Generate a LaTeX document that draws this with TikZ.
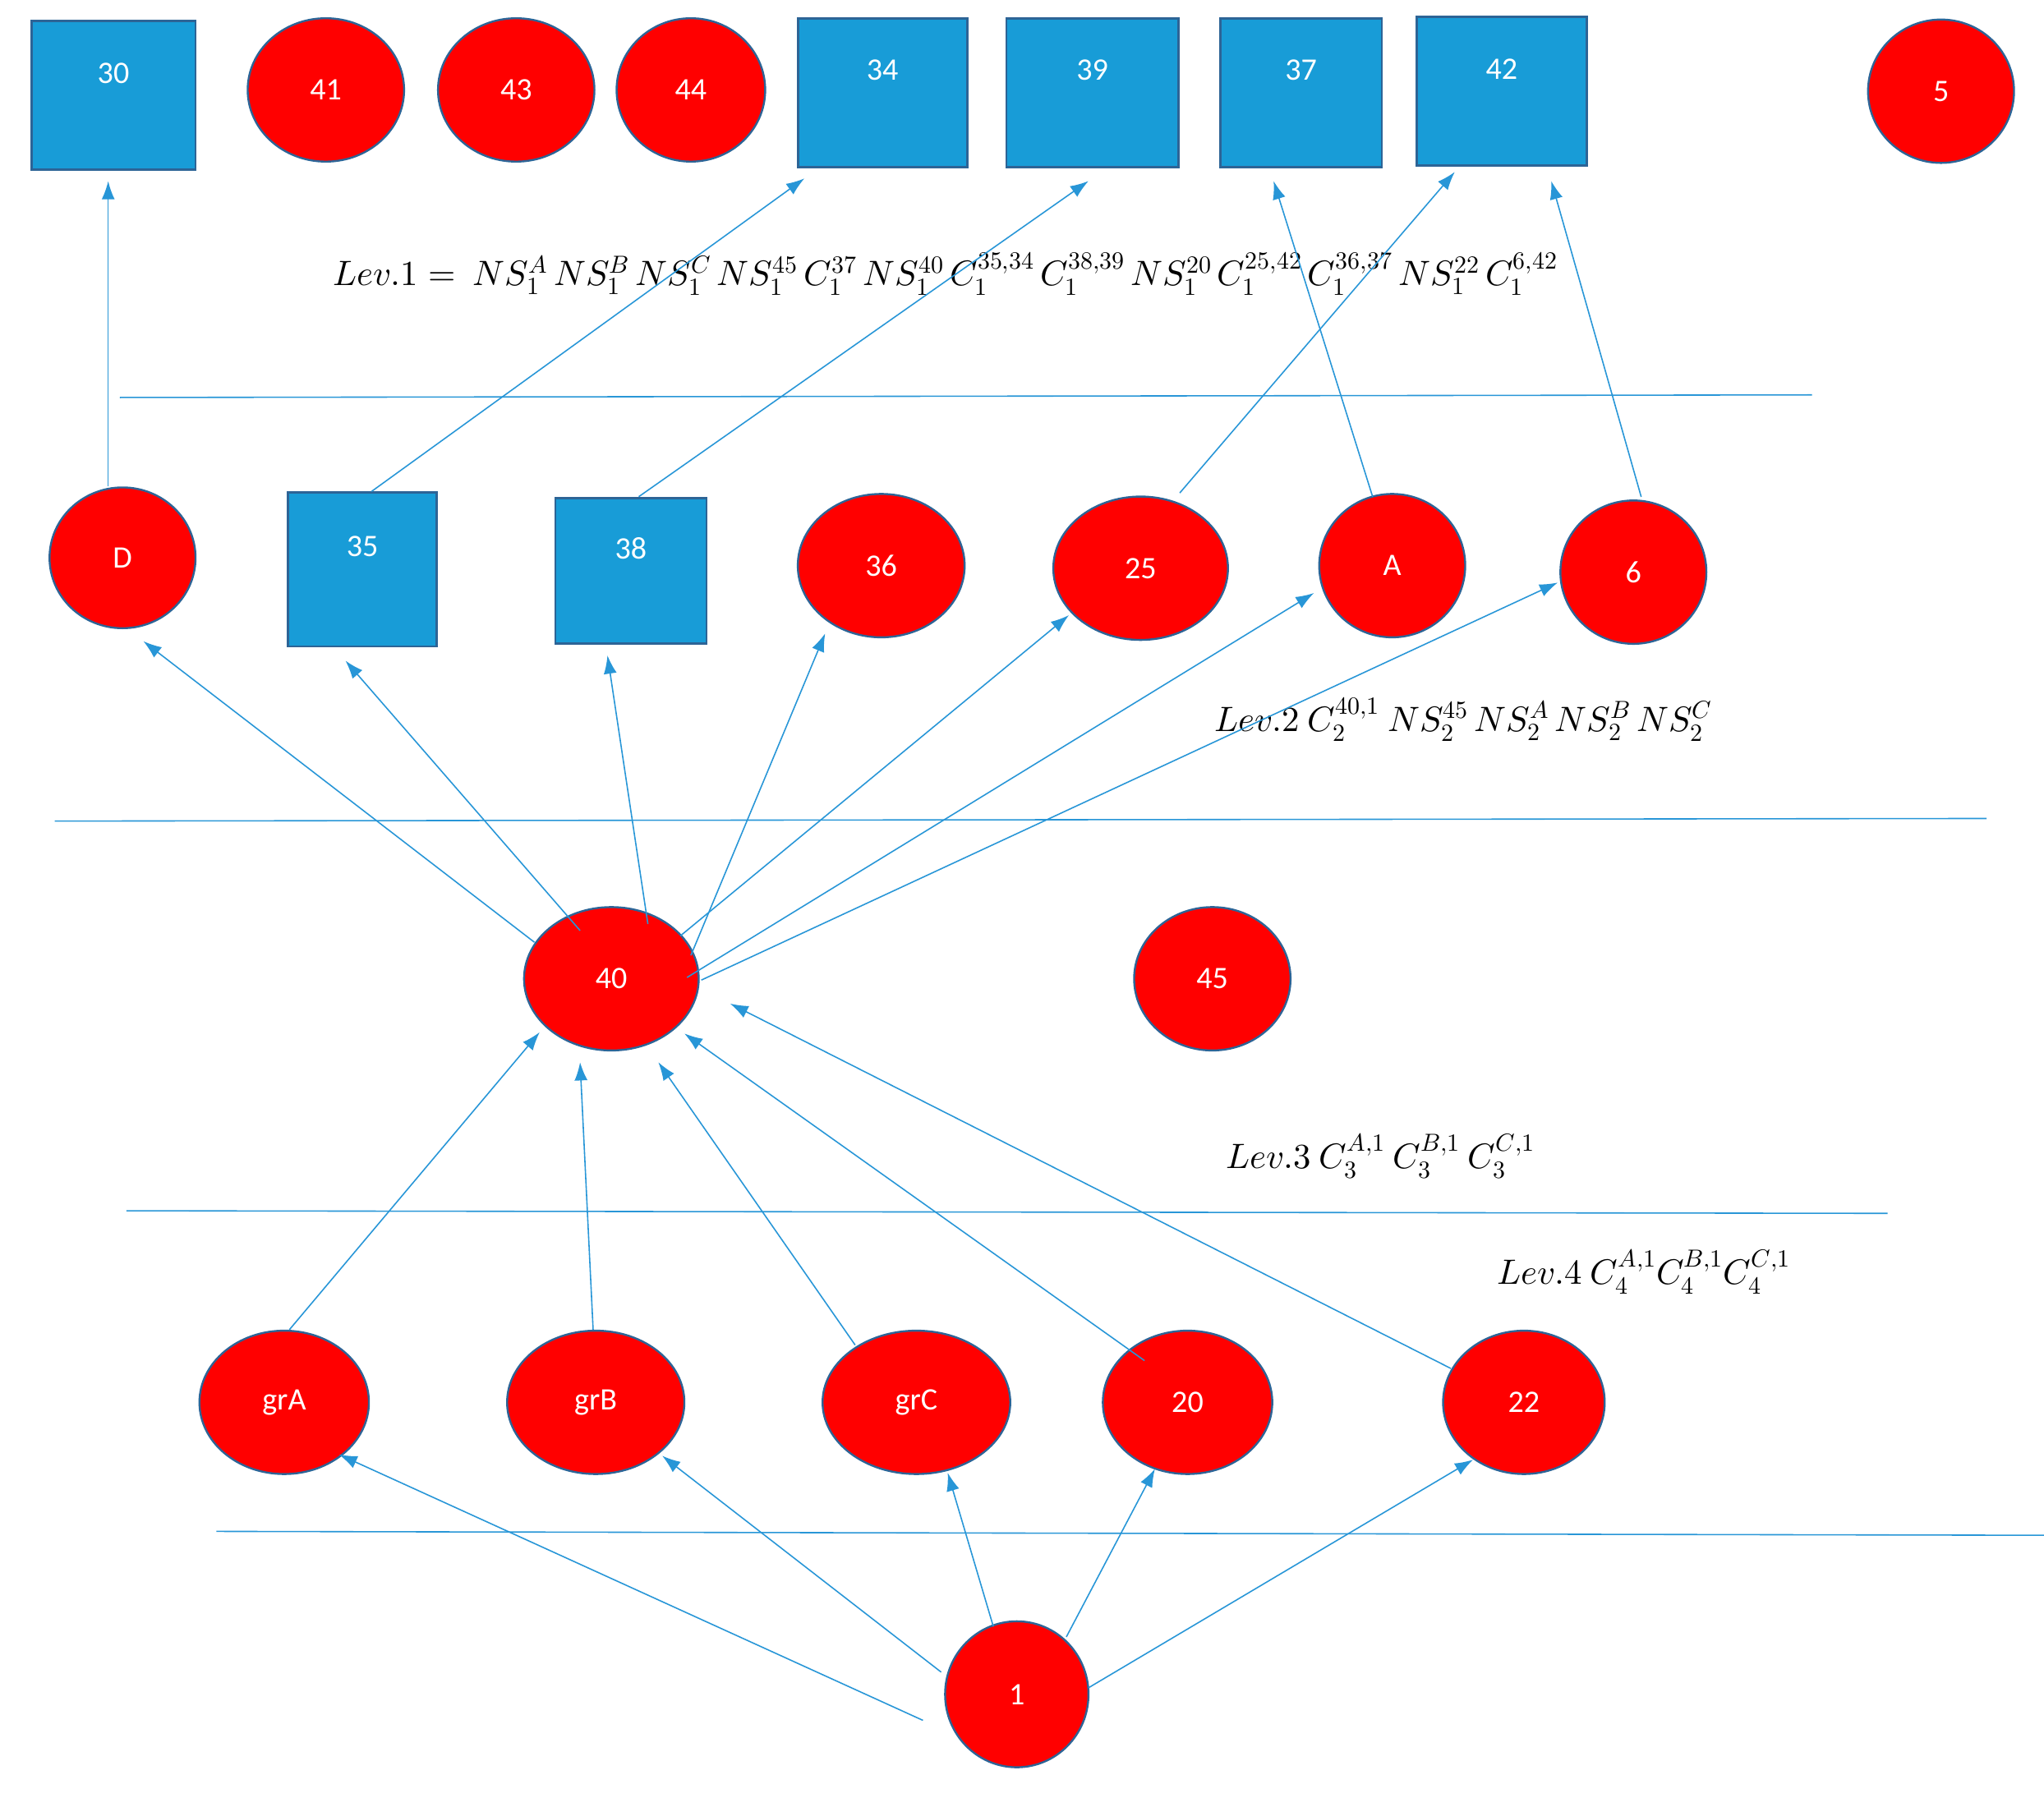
\documentclass[tikz,border=0pt]{standalone}
\usepackage{fontspec}
\setmainfont{Carlito}
\usepackage{unicode-math}
\usetikzlibrary{shapes.geometric,arrows.meta,calc}
\definecolor{sq}{RGB}{24,156,215}
\definecolor{bd}{RGB}{45,100,150}
\definecolor{ln}{RGB}{40,150,215}
\begin{document}
\begin{tikzpicture}[x=1pt,y=-1pt,
 sqn/.style={draw=bd,line width=1.8pt,fill=sq,text=white,minimum width=#1,minimum height=114pt,font=\fontsize{24}{28}\selectfont,inner sep=0pt},
 el/.style={draw=bd,line width=1.5pt,fill=red,text=white,ellipse,inner sep=0pt,font=\fontsize{24}{28}\selectfont},
 hl/.style={ln,line width=1pt},
 ar/.style={ln,line width=1pt,-{Latex[length=14pt,width=10pt]}},
 eq/.style={font=\fontsize{27}{32}\selectfont,anchor=west}]
\useasboundingbox (0,0) rectangle (1568,1386);
% top row
\node[sqn=126pt] (n30) at (87,73) {};
\node at (87,56) [text=white,font=\fontsize{24}{28}\selectfont] {30};
\node[el,minimum width=120pt,minimum height=110pt] (n41) at (250,69) {41};
\node[el,minimum width=120pt,minimum height=110pt] (n43) at (396,69) {43};
\node[el,minimum width=114pt,minimum height=110pt] (n44) at (530,69) {44};
\node[sqn=130pt] (n34) at (677,71) {};
\node at (677,54) [text=white,font=\fontsize{24}{28}\selectfont] {34};
\node[sqn=132pt] (n39) at (838,71) {};
\node at (838,54) [text=white,font=\fontsize{24}{28}\selectfont] {39};
\node[sqn=124pt] (n37) at (998,71) {};
\node at (998,54) [text=white,font=\fontsize{24}{28}\selectfont] {37};
\node[sqn=130pt] (n42) at (1152,70) {};
\node at (1152,53) [text=white,font=\fontsize{24}{28}\selectfont] {42};
\node[el,minimum width=112pt,minimum height=110pt] (n5) at (1489,70) {5};
% row 2
\node[el,minimum width=112pt,minimum height=108pt] (nD) at (94,428) {D};
\node[sqn=114pt,minimum height=118pt] (n35) at (278,437) {};
\node at (278,419) [text=white,font=\fontsize{24}{28}\selectfont] {35};
\node[sqn=116pt,minimum height=112pt] (n38) at (484,438) {};
\node at (484,421) [text=white,font=\fontsize{24}{28}\selectfont] {38};
\node[el,minimum width=128pt,minimum height=110pt] (n36) at (676,434) {36};
\node[el,minimum width=134pt,minimum height=110pt] (n25) at (875,436) {25};
\node[el,minimum width=112pt,minimum height=110pt] (nA) at (1068,434) {A};
\node[el,minimum width=112pt,minimum height=110pt] (n6) at (1253,439) {6};
% row 3
\node[el,minimum width=134pt,minimum height=110pt] (n40) at (469,751) {40};
\node[el,minimum width=120pt,minimum height=110pt] (n45) at (930,751) {45};
% row 4
\node[el,minimum width=130pt,minimum height=110pt] (ngA) at (218,1076) {grA};
\node[el,minimum width=136pt,minimum height=110pt] (ngB) at (457,1076) {grB};
\node[el,minimum width=144pt,minimum height=110pt] (ngC) at (703,1076) {grC};
\node[el,minimum width=130pt,minimum height=110pt] (n20) at (911,1076) {20};
\node[el,minimum width=124pt,minimum height=110pt] (n22) at (1169,1076) {22};
\node[el,minimum width=110pt,minimum height=112pt] (n1) at (780,1300) {1};
% horizontal lines
\coordinate (h1a) at (92,305); \coordinate (h1b) at (1390,303);
\coordinate (h2a) at (42,630); \coordinate (h2b) at (1524,628);
\coordinate (h3a) at (97,929); \coordinate (h3b) at (1448,931);
\coordinate (h4a) at (166,1175); \coordinate (h4b) at (1568,1178);
\draw[hl] (h1a)--(h1b); \draw[hl] (h2a)--(h2b); \draw[hl] (h3a)--(h3b); \draw[hl] (h4a)--(h4b);
% texts
\node[eq] (t1) at (252,210) {$Lev.1 =\ NS_1^A\,NS_1^B\,NS_1^C\,NS_1^{45}\,C_1^{37}\,NS_1^{40}\,C_1^{35,34}\,C_1^{38,39}\,NS_1^{20}\,C_1^{25,42}\,C_1^{36,37}\,NS_1^{22}\,C_1^{6,42}$};
\node[eq] (t2) at (928,552) {$Lev.2\ C_2^{40,1}\ NS_2^{45}\,NS_2^A\,NS_2^B\,NS_2^C$};
\node[eq] (t3) at (937,887) {$Lev.3\ C_3^{A,1}\ C_3^{B,1}\ C_3^{C,1}$};
\node[eq] (t4) at (1145,976) {$Lev.4\ C_4^{A,1}C_4^{B,1}C_4^{C,1}$};
% arrows upper
\draw[ar] ($(nD.north)+(-11,0)$) -- ($(n30.south)+(-4,8)$);
\draw[ar] ($(n35.north)+(7,0)$) -- ($(n34.south west)+(6,8)$);
\draw[ar] ($(n38.north)+(6,0)$) -- ($(n39.south)+(-3,10)$);
\draw[ar] ($(n25.north)+(30,-2)$) -- ($(n42.south)+(-36,4)$);
\draw[ar] ($(nA.north)+(-15,3)$) -- ($(n37.south)+(-21,10)$);
\draw[ar] ($(n6.north)+(6,-2)$) -- ($(n42.south)+(38,11)$);
% arrows from 40
\draw[ar] ($(n40.center)+(-59,-28)$) -- ($(nD.center)+(16,64)$);
\draw[ar] ($(n40.center)+(-24,-37)$) -- ($(n35.south)+(-13,10)$);
\draw[ar] ($(n40.center)+(28,-42)$) -- ($(n38.south)+(-18,8)$);
\draw[ar] ($(n40.center)+(61,-18)$) -- ($(n36.center)+(-43,52)$);
\draw[ar] ($(n40.center)+(53,-33)$) -- ($(n25.center)+(-55,36)$);
\draw[ar] ($(n40.center)+(58,-1)$) -- ($(nA.center)+(-60,21)$);
\draw[ar] ($(n40.center)+(69,1)$) -- ($(n6.center)+(-58,8)$);
% arrows to 40
\draw[ar] ($(ngA.north)+(4,0)$) -- ($(n40.center)+(-55,41)$);
\draw[ar] ($(ngB.north)+(-2,0)$) -- ($(n40.center)+(-24,64)$);
\draw[ar] ($(ngC.center)+(-47,-44)$) -- ($(n40.center)+(36,64)$);
\draw[ar] ($(n20.center)+(-33,-32)$) -- ($(n40.center)+(56,42)$);
\draw[ar] ($(n22.center)+(-56,-26)$) -- ($(n40.center)+(91,19)$);
% arrows from 1
\draw[ar] ($(n1.center)+(-72,20)$) -- ($(ngA.center)+(42,40)$);
\draw[ar] ($(n1.center)+(-58,-17)$) -- ($(ngB.center)+(51,41)$);
\draw[ar] ($(n1.center)+(-18,-52)$) -- ($(ngC.center)+(24,54)$);
\draw[ar] ($(n1.center)+(38,-44)$) -- ($(n20.center)+(-25,51)$);
\draw[ar] ($(n1.center)+(55,-5)$) -- ($(n22.center)+(-39,44)$);
\end{tikzpicture}
\end{document}
